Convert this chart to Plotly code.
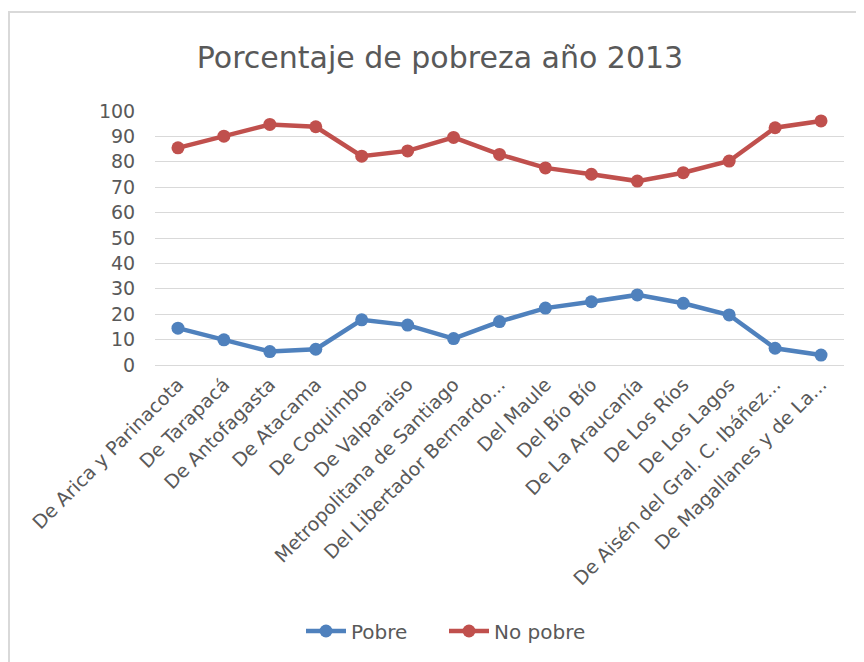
import plotly.graph_objects as go

# regiones, tal como aparecen en el eje (Excel recorta las largas)
regiones = [
    "De Arica y Parinacota", "De Tarapacá", "De Antofagasta", "De Atacama",
    "De Coquimbo", "De Valparaiso", "Metropolitana de Santiago",
    "Del Libertador Bernardo...", "Del Maule", "Del Bío Bío",
    "De La Araucanía", "De Los Ríos", "De Los Lagos",
    "De Aisén del Gral. C. Ibáñez...", "De Magallanes y de La...",
]
pobre = [14.5, 9.9, 5.3, 6.2, 17.8, 15.7, 10.4, 17.1, 22.4, 24.9, 27.6, 24.3, 19.7, 6.6, 3.9]
no_pobre = [85.5, 90.1, 94.7, 93.8, 82.2, 84.3, 89.6, 82.9, 77.6, 75.1, 72.4, 75.7, 80.3, 93.4, 96.1]

W, H = 864, 662
OFF = 8  # page body margin shifts everything by this much
# plot area in screen pixels
L, R, T, B = 155 - OFF, 844 - OFF, 111 - OFF, 365 - OFF
FONT = "DejaVu Sans"
GRIS = "#595959"


def px2paper(x, y):
    x, y = x - OFF, y - OFF
    return (x - L) / (R - L), (B - y) / (B - T)


fig = go.Figure()
fig.add_trace(go.Scatter(x=regiones, y=pobre, name="Pobre", mode="lines+markers",
                         line=dict(color="#4F81BD", width=4.5),
                         marker=dict(color="#4F81BD", size=13),
                         cliponaxis=False))
fig.add_trace(go.Scatter(x=regiones, y=no_pobre, name="No pobre", mode="lines+markers",
                         line=dict(color="#C0504D", width=4.5),
                         marker=dict(color="#C0504D", size=13),
                         cliponaxis=False))

# chart frame (goes past right/bottom edge like the screenshot)
x0, y0 = px2paper(OFF + 1, 12)
x1, y1 = px2paper(900, 700)
fig.add_shape(type="rect", xref="paper", yref="paper", x0=x0, y0=y1, x1=x1, y1=y0,
              line=dict(color="#D9D9D9", width=2), layer="below")

leg_x, leg_y = px2paper(301, 631)

fig.update_layout(
    width=W, height=H,
    margin=dict(l=L, r=W - R, t=T, b=H - B, pad=0),
    paper_bgcolor="white", plot_bgcolor="white",
    font=dict(family=FONT, color=GRIS, size=17),
    title=dict(text="Porcentaje de pobreza año 2013", x=(440 - OFF) / W, xanchor="center",
               y=1 - (57 - OFF) / H, yanchor="middle", yref="container",
               font=dict(size=30, color=GRIS, family=FONT)),
    showlegend=True,
    legend=dict(orientation="h", x=leg_x, xanchor="left", y=leg_y, yanchor="middle",
                font=dict(size=20, color=GRIS), itemwidth=40,
                entrywidth=88, entrywidthmode="pixels"),
    xaxis=dict(type="category", tickangle=-45, showgrid=False, showline=False,
               ticks="outside", ticklen=0, tickcolor="rgba(0,0,0,0)",
               tickfont=dict(size=19, color=GRIS), range=[-0.5, len(regiones) - 0.5]),
    yaxis=dict(range=[0, 100], dtick=10, showgrid=True, gridcolor="#D9D9D9", gridwidth=1,
               zeroline=True, zerolinecolor="#D9D9D9", zerolinewidth=1, showline=False,
               ticks="outside", ticklen=15, tickcolor="rgba(0,0,0,0)",
               tickfont=dict(size=19, color=GRIS)),
)

fig.write_html("out.html")
